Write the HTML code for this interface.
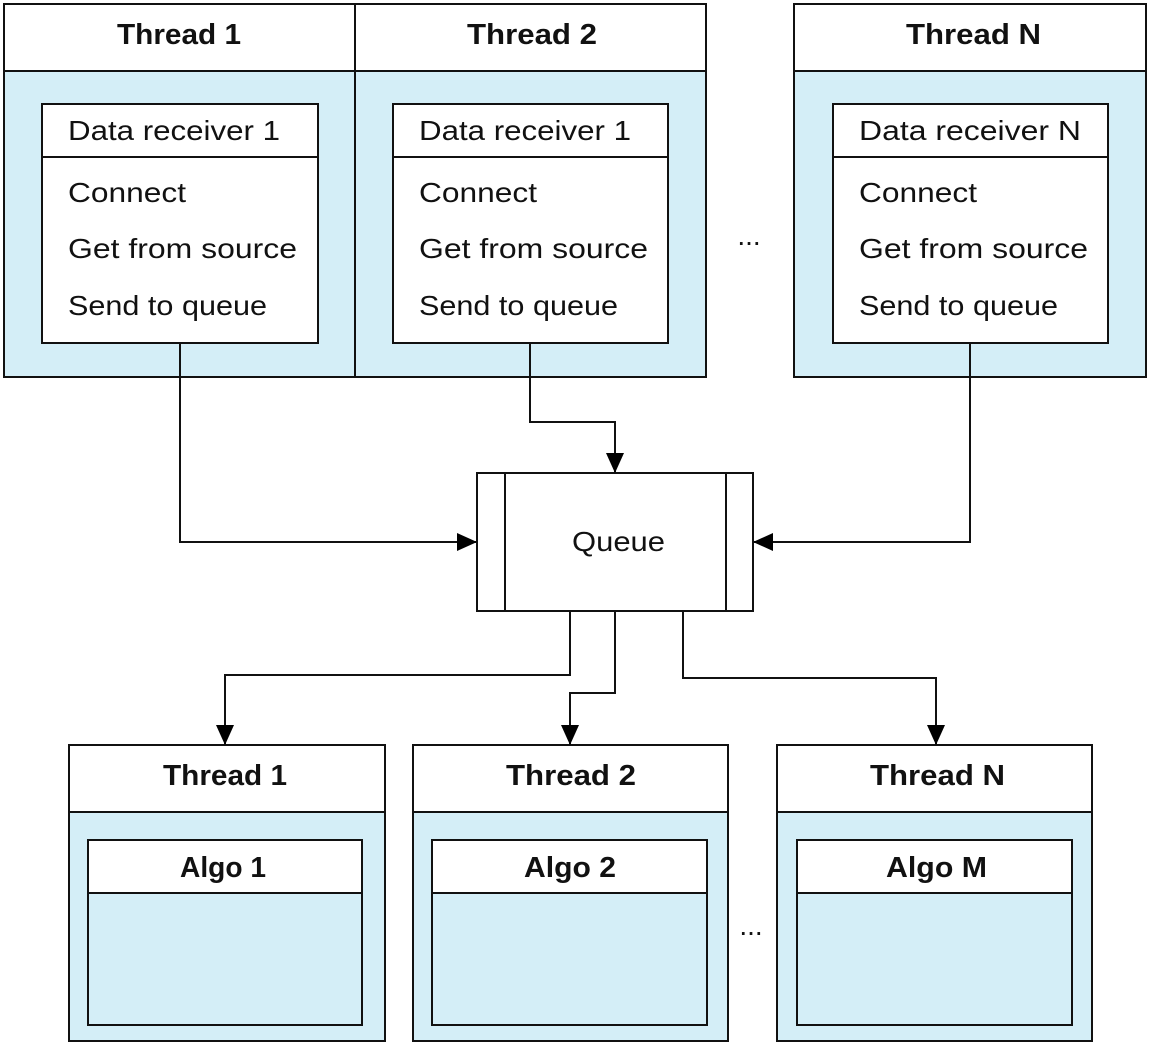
<!DOCTYPE html>
<html><head><style>
body{margin:0;background:#fff}
svg text{font-family:"Liberation Sans",sans-serif;fill:#111}
</style></head><body>
<svg width="1150" height="1044" viewBox="0 0 1150 1044" xmlns="http://www.w3.org/2000/svg">
<defs>
<marker id="b" markerWidth="20" markerHeight="20" refX="20" refY="10" orient="auto" markerUnits="userSpaceOnUse"><path d="M0,1 L20,10 L0,19z" fill="#000"/></marker></defs>
<g stroke="#111" stroke-width="2">
<rect x="4" y="71" width="351" height="306" fill="#d4eef7"/><rect x="4" y="4" width="351" height="67" fill="#fff"/>
<rect x="355" y="71" width="351" height="306" fill="#d4eef7"/><rect x="355" y="4" width="351" height="67" fill="#fff"/>
<rect x="794" y="71" width="352" height="306" fill="#d4eef7"/><rect x="794" y="4" width="352" height="67" fill="#fff"/>
<rect x="42" y="104" width="276" height="239" fill="#fff"/><line x1="42" y1="157" x2="318" y2="157"/>
<rect x="393" y="104" width="275" height="239" fill="#fff"/><line x1="393" y1="157" x2="668" y2="157"/>
<rect x="833" y="104" width="275" height="239" fill="#fff"/><line x1="833" y1="157" x2="1108" y2="157"/>
<rect x="477" y="473" width="276" height="138" fill="#fff"/><line x1="505" y1="473" x2="505" y2="611"/><line x1="726" y1="473" x2="726" y2="611"/>
<rect x="69" y="812" width="316" height="229" fill="#d4eef7"/><rect x="69" y="745" width="316" height="67" fill="#fff"/>
<rect x="413" y="812" width="315" height="229" fill="#d4eef7"/><rect x="413" y="745" width="315" height="67" fill="#fff"/>
<rect x="777" y="812" width="315" height="229" fill="#d4eef7"/><rect x="777" y="745" width="315" height="67" fill="#fff"/>
<rect x="88" y="840" width="274" height="185" fill="#d4eef7"/><rect x="88" y="840" width="274" height="53" fill="#fff"/>
<rect x="432" y="840" width="275" height="185" fill="#d4eef7"/><rect x="432" y="840" width="275" height="53" fill="#fff"/>
<rect x="797" y="840" width="275" height="185" fill="#d4eef7"/><rect x="797" y="840" width="275" height="53" fill="#fff"/>
<g fill="none" marker-end="url(#b)">
<polyline points="180,343 180,542 477,542"/>
<polyline points="530,343 530,422 615,422 615,473"/>
<polyline points="970,343 970,542 753,542"/>
<polyline points="570,611 570,675 225,675 225,745"/>
<polyline points="615,611 615,693 570,693 570,745"/>
<polyline points="683,611 683,678 936,678 936,745"/>
</g>
</g>
<g font-size="29" font-weight="bold" lengthAdjust="spacingAndGlyphs">
<text x="117" y="44" textLength="124" lengthAdjust="spacingAndGlyphs">Thread 1</text><text x="467" y="44" textLength="130" lengthAdjust="spacingAndGlyphs">Thread 2</text><text x="906" y="44" textLength="135" lengthAdjust="spacingAndGlyphs">Thread N</text>
<text x="163" y="785" textLength="124" lengthAdjust="spacingAndGlyphs">Thread 1</text><text x="506" y="785" textLength="130" lengthAdjust="spacingAndGlyphs">Thread 2</text><text x="870" y="785" textLength="135" lengthAdjust="spacingAndGlyphs">Thread N</text>
<text x="180" y="877" textLength="86" lengthAdjust="spacingAndGlyphs">Algo 1</text><text x="524" y="877" textLength="92" lengthAdjust="spacingAndGlyphs">Algo 2</text><text x="886" y="877" textLength="101" lengthAdjust="spacingAndGlyphs">Algo M</text>
</g>
<g font-size="28">
<text x="68" y="140" textLength="212" lengthAdjust="spacingAndGlyphs">Data receiver 1</text><text x="68" y="202" textLength="118" lengthAdjust="spacingAndGlyphs">Connect</text><text x="68" y="258" textLength="229" lengthAdjust="spacingAndGlyphs">Get from source</text><text x="68" y="315" textLength="199" lengthAdjust="spacingAndGlyphs">Send to queue</text>
<text x="419" y="140" textLength="212" lengthAdjust="spacingAndGlyphs">Data receiver 1</text><text x="419" y="202" textLength="118" lengthAdjust="spacingAndGlyphs">Connect</text><text x="419" y="258" textLength="229" lengthAdjust="spacingAndGlyphs">Get from source</text><text x="419" y="315" textLength="199" lengthAdjust="spacingAndGlyphs">Send to queue</text>
<text x="859" y="140" textLength="222" lengthAdjust="spacingAndGlyphs">Data receiver N</text><text x="859" y="202" textLength="118" lengthAdjust="spacingAndGlyphs">Connect</text><text x="859" y="258" textLength="229" lengthAdjust="spacingAndGlyphs">Get from source</text><text x="859" y="315" textLength="199" lengthAdjust="spacingAndGlyphs">Send to queue</text>
<text x="572" y="551" textLength="93" lengthAdjust="spacingAndGlyphs">Queue</text>
<text x="749" y="245" text-anchor="middle">...</text><text x="751" y="935" text-anchor="middle">...</text>
</g>
</svg>
</body></html>
